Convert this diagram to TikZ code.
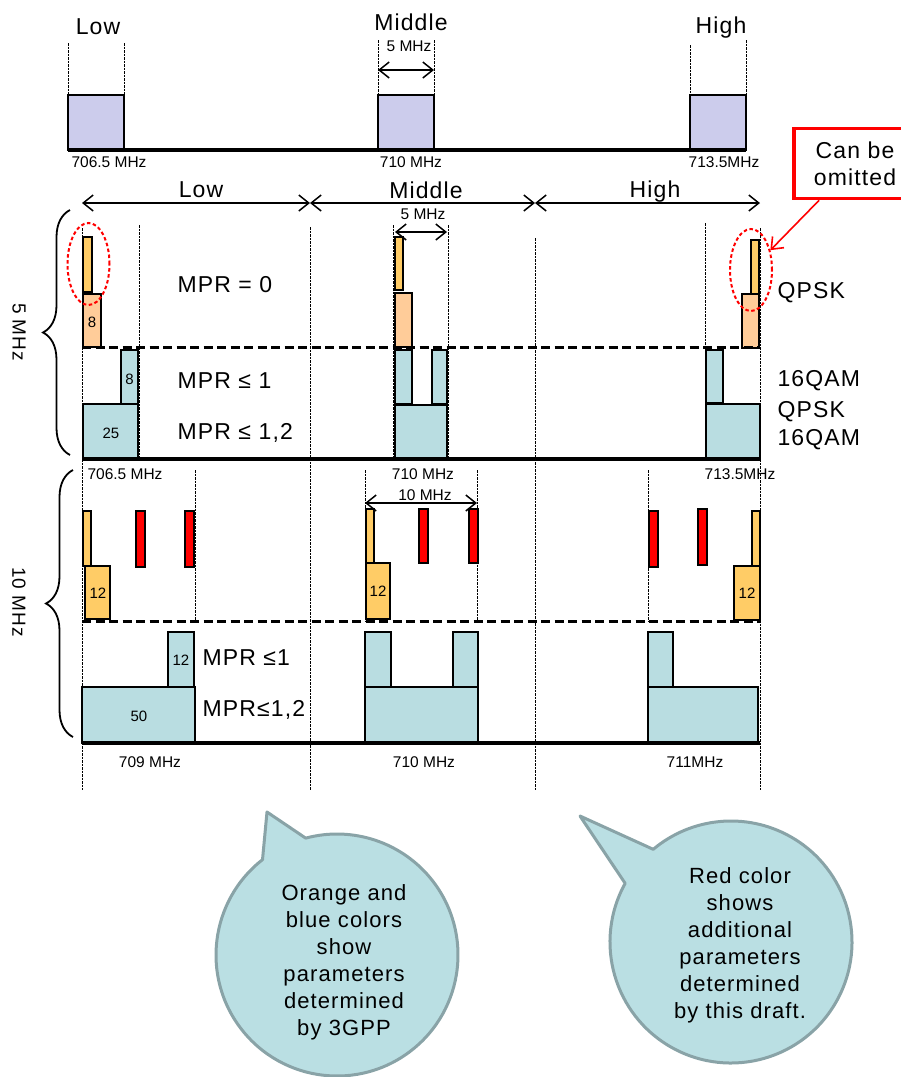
\documentclass[tikz,border=0pt]{standalone}
\usepackage{fontspec}
\setmainfont{Liberation Sans}
\newfontfamily\widefont[LetterSpace=5]{Liberation Sans}
\usetikzlibrary{arrows.meta,shapes.geometric,decorations.pathreplacing,calc}
\definecolor{lav}{RGB}{204,204,236}
\definecolor{gold}{RGB}{255,204,102}
\definecolor{peach}{RGB}{255,204,153}
\definecolor{qamblue}{RGB}{185,221,225}
\definecolor{bubfill}{RGB}{186,223,227}
\definecolor{bubline}{RGB}{137,163,167}

\begin{document}
\begin{tikzpicture}[x=1pt,y=1pt,>={Straight Barb[length=10pt,width=16pt]},
  blk/.style={draw,line width=2.2pt},
  gridline/.style={line width=1pt,dash pattern=on 2.5pt off 1pt},
  split/.style={line width=3pt,dash pattern=on 9pt off 4.5pt},
  baseln/.style={line width=4pt},
  bw/.style={<->,line width=1.5pt},
  bigtxt/.style={font=\widefont\fontsize{23}{27}\selectfont},
  medtxt/.style={font=\widefont\fontsize{19}{22}\selectfont},
  smalltxt/.style={font=\fontsize{15.5}{18}\selectfont},
  num/.style={font=\fontsize{15}{17}\selectfont},
  bubtxt/.style={font=\widefont\fontsize{22}{27}\selectfont,align=center},
  omitted/.style={ellipse,draw=red,line width=2pt,dash pattern=on 3.5pt off 2.5pt,
    minimum width=42,minimum height=82,inner sep=0pt},
  bub/.style={fill=bubfill,draw=bubline,line width=3pt,line join=round}]
  \useasboundingbox (0,0) rectangle (901,-1077);

  % channel positions
  \draw[gridline] (68,-43)--(68,-95) (124,-43)--(124,-95);
  \draw[gridline] (378,-40)--(378,-95) (434,-40)--(434,-95);
  \draw[gridline] (690,-45)--(690,-95) (746,-40)--(746,-95);
  \draw[blk,fill=lav] (68,-95) rectangle (124,-150);
  \draw[blk,fill=lav] (378,-95) rectangle (434,-150);
  \draw[blk,fill=lav] (690,-95) rectangle (746,-150);
  \draw[baseln] (68,-150)--(746,-150);
  \draw[bw] (378,-70)--(434,-70);
  \node[bigtxt] (lowtop) at (98,-27) {Low};
  \node[bigtxt] (midtop) at (411,-22) {Middle};
  \node[bigtxt] (hightop) at (721,-28) {High};
  \node[smalltxt] (bwtop) at (409,-46) {5 MHz};
  \node[smalltxt] (ftopa) at (109,-162) {706.5 MHz};
  \node[smalltxt] (ftopb) at (411,-162) {710 MHz};
  \node[smalltxt] (ftopc) at (724,-162) {713.5MHz};

  % ranges
  \draw[bw] (82,-203)--(310,-203);
  \draw[bw] (310,-203)--(535,-203);
  \draw[bw] (535,-203)--(760,-203);
  \node[bigtxt] (lowrng) at (201,-190) {Low};
  \node[bigtxt] (midrng) at (426,-190) {Middle};
  \node[bigtxt] (highrng) at (655,-192) {High};

  % 5 MHz
  \draw[gridline] (82,-228)--(82,-790) (310,-227)--(310,-790)
    (535,-238)--(535,-790) (760,-228)--(760,-790);
  \draw[gridline] (139,-225)--(139,-459) (393,-225)--(393,-459)
    (448,-225)--(448,-459) (705,-223)--(705,-459);
  \draw[bw] (395,-232)--(447,-232);
  \node[smalltxt] (bwfive) at (423,-214) {5 MHz};
  \draw[blk,fill=gold] (83,-237) rectangle (92,-292);
  \draw[blk,fill=peach] (83,-294) rectangle (101,-347);
  \draw[blk,fill=qamblue] (121,-350) rectangle (138,-404);
  \draw[blk,fill=qamblue] (83,-404) rectangle (138,-458);
  \draw[blk,fill=gold] (395,-237) rectangle (403,-290);
  \draw[blk,fill=peach] (395,-293) rectangle (412,-347);
  \draw[blk,fill=qamblue] (395,-350) rectangle (412,-404);
  \draw[blk,fill=qamblue] (432,-350) rectangle (447,-404);
  \draw[blk,fill=qamblue] (395,-405) rectangle (447,-459);
  \draw[blk,fill=gold] (751,-240) rectangle (759,-295);
  \draw[blk,fill=peach] (742,-294) rectangle (759,-348);
  \draw[blk,fill=qamblue] (706,-350) rectangle (723,-403);
  \draw[blk,fill=qamblue] (706,-404) rectangle (760,-459);
  \node[num] (rbfa) at (92,-322) {8};
  \node[num] (rbfb) at (129.5,-379) {8};
  \node[num] (rbfc) at (111,-433) {25};
  \draw[split] (82,-347)--(760,-347);
  \draw[baseln] (82,-459)--(760,-459);
  \node[bigtxt,anchor=west] (mprfa) at (174,-285) {MPR = 0};
  \node[bigtxt,anchor=west] (mprfb) at (174,-381) {MPR ≤ 1};
  \node[bigtxt,anchor=west] (mprfc) at (174,-433) {MPR ≤ 1,2};
  \node[bigtxt,anchor=west] (modfa) at (774,-293) {QPSK};
  \node[bigtxt,anchor=west] (modfb) at (774,-381) {16QAM};
  \node[bigtxt,anchor=west] (modfc) at (774,-412) {QPSK};
  \node[bigtxt,anchor=west] (modfd) at (774,-440) {16QAM};
  \node[smalltxt] (ffivea) at (125,-474) {706.5 MHz};
  \node[smalltxt] (ffiveb) at (423,-474) {710 MHz};
  \node[smalltxt] (ffivec) at (740,-474) {713.5MHz};
  \draw[decorate,decoration={brace,amplitude=27pt},line width=1.8pt] (70,-455)--(70,-210);
  \node[medtxt,rotate=-90] (brfive) at (19,-332) {5 MHz};

  % edge blocks that can be dropped
  \node[omitted] (omitL) at (88.5,-264) {};
  \node[omitted] (omitR) at (751,-270) {};
  \node[draw=red,line width=3.5pt,bigtxt,align=center,minimum width=122,
    minimum height=70,inner sep=2pt] (omit) at (855,-163.5) {Can be\\omitted};
  \draw[->,red,line width=1.6pt] (omit)--(omitR);

  % 10 MHz
  \draw[gridline] (195,-470)--(195,-621) (365,-470)--(365,-621)
    (477,-470)--(477,-621) (648,-470)--(648,-621);
  \draw[bw] (365,-503)--(477,-503);
  \node[smalltxt] (bwten) at (425,-495) {10 MHz};
  \draw[blk,fill=gold] (83,-511) rectangle (91,-566);
  \draw[blk,fill=gold] (85,-566) rectangle (110,-619);
  \draw[blk,fill=red] (136,-511) rectangle (145,-567);
  \draw[blk,fill=red] (185,-511) rectangle (194,-567);
  \draw[blk,fill=qamblue] (168,-632) rectangle (194,-687);
  \draw[blk,fill=qamblue] (82,-687) rectangle (195,-743);
  \draw[blk,fill=gold] (366,-509) rectangle (374,-563);
  \draw[blk,fill=gold] (366,-563) rectangle (390,-619);
  \draw[blk,fill=red] (419,-509) rectangle (428,-563);
  \draw[blk,fill=red] (469,-509) rectangle (478,-563);
  \draw[blk,fill=qamblue] (365,-632) rectangle (391,-687);
  \draw[blk,fill=qamblue] (453,-632) rectangle (478,-687);
  \draw[blk,fill=qamblue] (365,-687) rectangle (478,-743);
  \draw[blk,fill=red] (649,-511) rectangle (658,-567);
  \draw[blk,fill=red] (698,-509) rectangle (707,-565);
  \draw[blk,fill=gold] (752,-511) rectangle (760,-566);
  \draw[blk,fill=gold] (734,-566) rectangle (760,-620);
  \draw[blk,fill=qamblue] (648,-632) rectangle (673,-687);
  \draw[blk,fill=qamblue] (648,-687) rectangle (758,-743);
  \node[num] (rbta) at (98,-593) {12};
  \node[num] (rbtb) at (378,-591) {12};
  \node[num] (rbtc) at (747,-593) {12};
  \node[num] (rbtd) at (181,-660) {12};
  \node[num] (rbte) at (139,-716) {50};
  \draw[split] (82,-621)--(760,-621);
  \draw[baseln] (82,-743)--(760,-743);
  \node[bigtxt,anchor=west] (mprta) at (199,-658) {MPR ≤1};
  \node[bigtxt,anchor=west] (mprtb) at (199,-710) {MPR≤1,2};
  \node[smalltxt] (ftena) at (150,-762) {709 MHz};
  \node[smalltxt] (ftenb) at (424,-762) {710 MHz};
  \node[smalltxt] (ftenc) at (695,-762) {711MHz};
  \draw[decorate,decoration={brace,amplitude=27pt},line width=1.8pt] (73,-737)--(73,-470);
  \node[medtxt,rotate=-90] (brten) at (19,-602) {10 MHz};

  % notes
  \coordinate (cl) at (337,-955);
  \draw[bub] ($(cl)+(105:121)$)--(267,-812)--($(cl)+(128:121)$)
    arc[start angle=128,end angle=465,radius=121]--cycle;
  \node[bubtxt] (note3gpp) at (344,-962)
    {Orange and\\blue colors\\show\\parameters\\determined\\by 3GPP};
  \coordinate (cr) at (731,-942);
  \draw[bub] ($(cr)+(130:121)$)--(580,-816)--($(cr)+(151:121)$)
    arc[start angle=151,end angle=490,radius=121]--cycle;
  \node[bubtxt] (notedraft) at (740,-945)
    {Red color\\shows\\additional\\parameters\\determined\\by this draft.};
\end{tikzpicture}
\end{document}
